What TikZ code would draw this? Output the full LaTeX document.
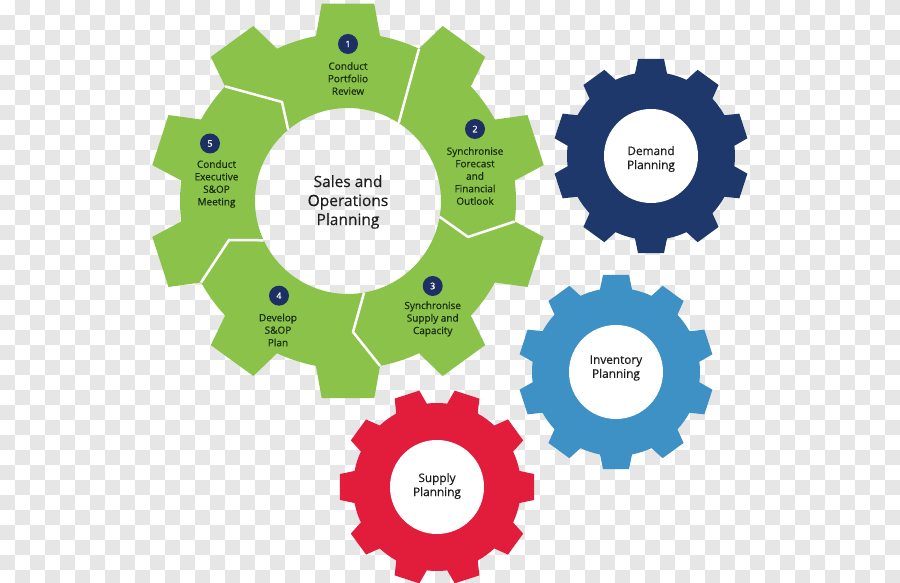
\documentclass[tikz,border=0pt]{standalone}
\usepackage{fontspec}
\setmainfont{Open Sans}
\newfontfamily\gearfont{Open Sans}[FakeBold=0.5]

\definecolor{gearGreen}{RGB}{139,195,74}
\definecolor{demandNavy}{RGB}{31,56,107}
\definecolor{stockBlue}{RGB}{62,145,196}
\definecolor{supplyRed}{RGB}{226,29,60}
\definecolor{badgeNavy}{RGB}{28,48,100}
\definecolor{stepInk}{RGB}{24,44,18}
\definecolor{hubInk}{RGB}{30,30,30}
\definecolor{checker}{RGB}{230,230,230}

% ten teeth: centre x, centre y, tip radius, root radius, angle of first tooth
\newcommand{\gearpath}[5]{%
  ([shift={(#1,#2)}]{#5-11}:#4)
  \foreach \k in {0,...,9}{
    -- ([shift={(#1,#2)}]{#5+36*\k-7.6}:#3)
    -- ([shift={(#1,#2)}]{#5+36*\k+7.6}:#3)
    -- ([shift={(#1,#2)}]{#5+36*\k+11}:#4)
    arc[start angle={#5+36*\k+11}, end angle={#5+36*\k+25}, radius=#4]
  } -- cycle}

\tikzset{
  badge/.style={circle, fill=badgeNavy, text=white, minimum size=20pt, inner sep=0pt,
    font=\gearfont\fontsize{9}{9}\selectfont},
  steptext/.style={align=center, text=stepInk, inner sep=0pt, font=\gearfont\fontsize{10}{12.5}\selectfont},
  hubtext/.style={align=center, text=hubInk, inner sep=0pt, font=\gearfont\fontsize{15.5}{19}\selectfont},
  cogtext/.style={align=center, text=hubInk, inner sep=0pt, font=\gearfont\fontsize{11.8}{14}\selectfont},
  seam/.style={white, line width=2.5pt, line join=round}
}

\begin{document}
\begin{tikzpicture}[x=1pt, y=1pt]
  \useasboundingbox (0,0) rectangle (900,583);
  \clip (0,0) rectangle (900,583);

  % checkered backdrop
  \foreach \i in {1,3,...,59} \foreach \j in {0,2,...,38}
    \fill[checker] ({15*\i},{583-15*\j}) rectangle ++(15,-15);
  \foreach \i in {0,2,...,58} \foreach \j in {1,3,...,37}
    \fill[checker] ({15*\i},{583-15*\j}) rectangle ++(15,-15);

  % big S&OP gear, hole left open
  \fill[gearGreen, even odd rule] \gearpath{348}{382}{199}{168}{90} (348,382) circle[radius=93];
  \draw[seam] (398.7,460.0) -- (419.0,534.3);               % 1 | 2
  \draw[seam] (439.6,366.2) -- (468,346) -- (514.7,361.5);  % 2 | 3
  \draw[seam] (364.1,290.4) -- (353,251) -- (380.1,217.1);  % 3 | 4
  \draw[seam] (263.7,342.7) -- (229,343) -- (201.1,300.6);  % 4 | 5
  \draw[seam] (288.2,453.2) -- (282,481) -- (225.1,496.6);  % 5 | 1

  % small gears
  \fill[demandNavy] \gearpath{651}{427}{98}{84}{90};
  \fill[white] (651,427) circle[radius=47];
  \fill[stockBlue] \gearpath{616}{211}{98}{84}{90};
  \fill[white] (616,211) circle[radius=47];
  \fill[supplyRed] \gearpath{437}{96}{98}{84}{0};
  \fill[white] (437,96) circle[radius=47];

  % steps round the big gear
  \node[badge] (b1) at (348,539) {1};
  \node[steptext] (s1) at (348,504.5) {Conduct\\Portfolio\\Review};
  \node[badge] (b2) at (475,454) {2};
  \node[steptext] (s2) at (475,407) {Synchronise\\Forecast\\and\\Financial\\Outlook};
  \node[badge] (b3) at (432.7,297) {3};
  \node[steptext] (s3) at (432.7,264) {Synchronise\\Supply and\\Capacity};
  \node[badge] (b4) at (279,287.3) {4};
  \node[steptext] (s4) at (278,253) {Develop\\S\&OP\\Plan};
  \node[badge] (b5) at (210,439.5) {5};
  \node[steptext] (s5) at (216.5,399) {Conduct\\Executive\\S\&OP\\Meeting};

  \node[hubtext] (hub) at (348,381) {Sales and\\Operations\\Planning};
  \node[cogtext] (demand) at (651,424) {Demand\\Planning};
  \node[cogtext] (stock) at (616,215) {Inventory\\Planning};
  \node[cogtext] (supply) at (437,97) {Supply\\Planning};
\end{tikzpicture}
\end{document}
